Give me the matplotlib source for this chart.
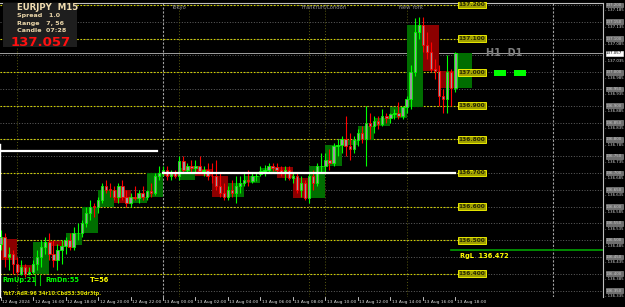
"""
EURJPY M15 chart (MT4 style) with H1 boxes, round levels and info panel.
"""
import matplotlib
matplotlib.use('Agg')
import matplotlib.pyplot as plt
from matplotlib.patches import Rectangle
import matplotlib.transforms as mtransforms

plt.rcParams['font.family'] = ['DejaVu Sans']

# ---------- data (M15 bars, 12 Aug 14:00 .. 13 Aug 18:00) ----------
m15_open = [136.49, 136.51, 136.45, 136.46, 136.43, 136.40, 136.42, 136.40, 136.405, 136.43, 136.45, 136.48,
            136.495, 136.46, 136.44, 136.47, 136.483, 136.50, 136.48, 136.52, 136.521, 136.55, 136.58, 136.60,
            136.599, 136.62, 136.66, 136.65, 136.649, 136.63, 136.66, 136.63, 136.611, 136.63, 136.625, 136.64,
            136.629, 136.645, 136.64, 136.69, 136.70, 136.71, 136.69, 136.70, 136.690, 136.735, 136.71, 136.72,
            136.715, 136.72, 136.705, 136.71, 136.691, 136.69, 136.66, 136.64, 136.629, 136.65, 136.64, 136.66,
            136.670, 136.68, 136.675, 136.69, 136.697, 136.705, 136.71, 136.72, 136.718, 136.71, 136.70, 136.71,
            136.685, 136.69, 136.65, 136.67, 136.626, 136.69, 136.67, 136.72, 136.721, 136.74, 136.73, 136.78,
            136.783, 136.80, 136.78, 136.77, 136.798, 136.82, 136.80, 136.85, 136.84, 136.855, 136.845, 136.87,
            136.864, 136.875, 136.88, 136.87, 136.896, 136.92, 137.00, 137.12, 137.140, 137.08, 137.06, 137.01,
            137.004, 136.93, 136.92, 137.00, 136.953]
m15_high = [136.53, 136.52, 136.48, 136.47, 136.45, 136.44, 136.43, 136.42, 136.44, 136.47, 136.50, 136.51,
            136.52, 136.50, 136.49, 136.50, 136.51, 136.52, 136.54, 136.55, 136.56, 136.60, 136.62, 136.61,
            136.63, 136.67, 136.68, 136.67, 136.66, 136.67, 136.68, 136.65, 136.64, 136.66, 136.65, 136.66,
            136.65, 136.67, 136.70, 136.72, 136.72, 136.72, 136.71, 136.71, 136.75, 136.75, 136.73, 136.74,
            136.74, 136.75, 136.72, 136.73, 136.73, 136.74, 136.70, 136.67, 136.66, 136.68, 136.69, 136.69,
            136.70, 136.71, 136.70, 136.70, 136.72, 136.725, 136.73, 136.73, 136.73, 136.72, 136.72, 136.72,
            136.70, 136.70, 136.69, 136.68, 136.70, 136.71, 136.73, 136.76, 136.76, 136.77, 136.79, 136.80,
            136.81, 136.87, 136.82, 136.81, 136.83, 136.84, 136.90, 136.88, 136.87, 136.87, 136.89, 136.88,
            136.88, 136.89, 136.91, 136.90, 136.93, 137.02, 137.16, 137.165, 137.165, 137.12, 137.09, 137.04,
            137.02, 136.95, 137.05, 137.01, 137.06]
m15_low = [136.47, 136.42, 136.41, 136.40, 136.395, 136.395, 136.39, 136.395, 136.40, 136.41, 136.42, 136.46,
           136.44, 136.42, 136.41, 136.43, 136.46, 136.47, 136.47, 136.50, 136.51, 136.54, 136.56, 136.57,
           136.58, 136.61, 136.64, 136.63, 136.62, 136.61, 136.62, 136.60, 136.60, 136.62, 136.61, 136.62,
           136.62, 136.63, 136.635, 136.68, 136.69, 136.68, 136.68, 136.685, 136.68, 136.70, 136.70, 136.70,
           136.70, 136.70, 136.69, 136.68, 136.67, 136.65, 136.63, 136.62, 136.62, 136.63, 136.61, 136.64,
           136.66, 136.66, 136.67, 136.675, 136.69, 136.69, 136.70, 136.705, 136.70, 136.69, 136.68, 136.68,
           136.67, 136.64, 136.63, 136.62, 136.61, 136.65, 136.66, 136.70, 136.70, 136.71, 136.72, 136.75,
           136.76, 136.75, 136.74, 136.76, 136.78, 136.79, 136.72, 136.80, 136.82, 136.83, 136.84, 136.85,
           136.85, 136.86, 136.86, 136.86, 136.88, 136.89, 136.99, 137.10, 137.06, 137.04, 137.00, 136.98,
           136.90, 136.88, 136.88, 136.90, 136.94]
m15_close = [136.51, 136.45, 136.46, 136.43, 136.405, 136.42, 136.40, 136.405, 136.43, 136.45, 136.48, 136.495,
             136.46, 136.44, 136.47, 136.483, 136.50, 136.48, 136.52, 136.521, 136.55, 136.58, 136.60, 136.599,
             136.62, 136.66, 136.65, 136.649, 136.63, 136.66, 136.63, 136.611, 136.63, 136.625, 136.64, 136.629,
             136.645, 136.64, 136.69, 136.700, 136.71, 136.69, 136.70, 136.690, 136.735, 136.71, 136.72, 136.715,
             136.72, 136.705, 136.71, 136.691, 136.69, 136.66, 136.64, 136.629, 136.65, 136.64, 136.66, 136.670,
             136.68, 136.675, 136.69, 136.691, 136.705, 136.71, 136.72, 136.715, 136.71, 136.70, 136.71, 136.685,
             136.69, 136.65, 136.67, 136.626, 136.69, 136.67, 136.72, 136.721, 136.74, 136.73, 136.78, 136.783,
             136.80, 136.78, 136.77, 136.798, 136.82, 136.80, 136.85, 136.840, 136.855, 136.845, 136.87, 136.864,
             136.875, 136.88, 136.87, 136.896, 136.92, 137.00, 137.12, 137.140, 137.08, 137.06, 137.01, 137.004,
             136.93, 136.92, 137.00, 136.953, 137.057]

# H1 boxes (open / close of each hour)
h1_open = [136.505, 136.425, 136.400, 136.498, 136.486, 136.521, 136.599, 136.649, 136.611, 136.629,
           136.700, 136.679, 136.712, 136.691, 136.629, 136.670, 136.697, 136.718, 136.685, 136.626,
           136.721, 136.783, 136.798, 136.840, 136.864, 136.896, 137.140, 137.004, 136.953]
h1_close = [136.440, 136.405, 136.495, 136.483, 136.521, 136.599, 136.649, 136.611, 136.629, 136.700,
            136.690, 136.715, 136.691, 136.629, 136.670, 136.691, 136.715, 136.685, 136.626, 136.721,
            136.783, 136.798, 136.840, 136.864, 136.896, 137.140, 137.004, 136.953, 137.057]

time_labels = ['12 Aug 2024', '12 Aug 16:00', '12 Aug 18:00', '12 Aug 20:00', '12 Aug 22:00',
               '13 Aug 00:00', '13 Aug 02:00', '13 Aug 04:00', '13 Aug 06:00', '13 Aug 08:00',
               '13 Aug 10:00', '13 Aug 12:00', '13 Aug 14:00', '13 Aug 16:00', '13 Aug 18:00']
round_levels = [136.4, 136.5, 136.6, 136.7, 136.8, 136.9, 137.0, 137.1, 137.2]
grid_levels = [136.35, 136.4, 136.45, 136.5, 136.55, 136.6, 136.65, 136.7, 136.75, 136.8,
               136.85, 136.9, 136.95, 137.0, 137.05, 137.1, 137.15, 137.2]
sessions = [('Tokyo', 44), ('Frankfurt/London', 76), ('New York', 100)]
session_lines = [4, 44, 76, 80, 100]
current_price = 137.057
yday_level = 136.766
today_open = 136.700
rgl_level = 136.472

# ---------- layout ----------
W, H = 625, 307
fig = plt.figure(figsize=(W / 100, H / 100), dpi=100, facecolor='black')

def px(x, y):
    return x / W, 1 - y / H

ax_l, ax_r, ax_t, ax_b = 0, 603, 3, 297
ax = fig.add_axes([ax_l / W, 1 - ax_b / H, (ax_r - ax_l) / W, (ax_b - ax_t) / H])
ax.set_facecolor('black')
bar_px = 4.06
x0_px = 0.6
ax.set_xlim((ax_l - x0_px) / bar_px, (ax_r - x0_px) / bar_px)
ax.set_ylim(137.2 - (ax_b - 5) / 336, 137.2 + (5 - ax_t) / 336)
ax.set_xticks([])
ax.set_yticks([])
for s in ['left', 'bottom']:
    ax.spines[s].set_visible(False)
for s in ['top', 'right']:
    ax.spines[s].set_color('#c0c0c0')
    ax.spines[s].set_linewidth(0.8)
ax.plot([0, 0], [0, 0.52], transform=ax.transAxes, color='white', lw=1.0, clip_on=False)

# grid
for lv in grid_levels:
    ax.axhline(lv, color='#707070', lw=0.6, ls=(0, (1.2, 2)), zorder=0)
for xi in [40, 136]:
    ax.axvline(xi, color='#a0a0a0', lw=0.8, ls=(0, (2, 1.5)), zorder=0)
for xi in session_lines:
    ax.axvline(xi, color='#5a5a10', lw=0.7, ls=(0, (1, 2)), zorder=0)

# round levels with labels
lab_x = (472 - x0_px) / bar_px
end_x = (460 - x0_px) / bar_px
for lv in round_levels:
    ax.plot([ax.get_xlim()[0], end_x], [lv, lv], color='#d0d000', lw=0.8, ls=(0, (1.5, 1.5)), zorder=1)
    ax.text(lab_x, lv, f'{lv:.3f}', color='#2a2a00', fontsize=4.2, fontweight='bold', ha='center',
            va='center', zorder=6,
            bbox=dict(boxstyle='square,pad=0.15', fc='#a0a000', ec='#ffff00', lw=0.6))

# H1 boxes
for k, (o, c) in enumerate(zip(h1_open, h1_close)):
    col = '#006e00' if c >= o else '#8c0000'
    ax.add_patch(Rectangle((4 * k, min(o, c)), 4, max(abs(c - o), 0.002), fc=col, ec='none', zorder=2))

# M15 candles
for i, (o, hi, lo, c) in enumerate(zip(m15_open, m15_high, m15_low, m15_close)):
    col = '#00ff00' if c >= o else '#ff0000'
    ax.vlines(i, lo, hi, color=col, lw=0.8, zorder=3)
    ax.add_patch(Rectangle((i - 0.3, min(o, c)), 0.6, max(abs(c - o), 0.002),
                           fc='#9a9a9a', ec=col, lw=0.6, zorder=4))

# horizontal lines
ax.plot([ax.get_xlim()[0], 38.5], [yday_level, yday_level], color='white', lw=1.6, zorder=5)
ax.plot([40, 112], [today_open, today_open], color='white', lw=1.6, zorder=5)
ax.axhline(current_price, color='#a0a0a0', lw=0.7, zorder=1)
ax.plot([111, ax.get_xlim()[1]], [rgl_level, rgl_level], color='#00a000', lw=1.2, zorder=5)
ax.text(113.2, rgl_level - 0.018, 'RgL  136.472', color='#ffff00', fontsize=4.8, fontweight='bold',
        va='center', zorder=6)

# H1 D1 markers
ax.text(119.5, 137.057, 'H1  D1', color='#808080', fontsize=7, fontweight='bold', va='center')
for xs in [121.5, 126.4]:
    ax.add_patch(Rectangle((xs, 136.99), 3, 0.017, fc='#00ff00', ec='none', zorder=6))

# sessions
for name, xi in sessions:
    ax.text(xi - 1.8, 137.193, name, color='#909090', fontsize=3.8, ha='left', va='center')

# right price scale
tr = mtransforms.blended_transform_factory(ax.transAxes, ax.transData)
for lv in grid_levels:
    if abs(lv - 137.05) > 0.001:
        ax.text(1.005, lv, f'{lv:.3f}', transform=tr, color='#c8c8c8', fontsize=2.9, va='center',
                ha='left', clip_on=False,
                bbox=dict(boxstyle='square,pad=0.12', fc='#6e6e6e', ec='#9a9a9a', lw=0.4))
    ax.text(1.003, lv - 0.016, f'- {lv - 0.015:.3f}', transform=tr, color='#e0e0e0', fontsize=2.8,
            va='center', ha='left', clip_on=False)
ax.text(1.005, current_price, f'{current_price:.3f}', transform=tr, color='black', fontsize=2.9,
        va='center', ha='left', clip_on=False, zorder=10,
        bbox=dict(boxstyle='square,pad=0.12', fc='white', ec='white', lw=0.4))

# time axis
for j, lab in enumerate(time_labels):
    xi = 8 * j
    xpx = x0_px + xi * bar_px
    fig.text(*px(xpx + 1.5, 302.5), lab, color='#d8d8d8', fontsize=3.2, ha='left', va='center')
    fig.lines.append(plt.Line2D([xpx / W, xpx / W], [1 - 297 / H, 1 - 300 / H], color='#d8d8d8',
                                lw=0.6, transform=fig.transFigure))

# info panel
fig.patches.append(Rectangle(px(3, 47), 74 / W, 44 / H, fc='#1e1e1e', ec='none',
                             transform=fig.transFigure, zorder=5))
fig.text(*px(17, 8), 'EURJPY  M15', color='#f0dcb0', fontsize=6.2, fontweight='bold', va='center', zorder=6)
fig.text(*px(17, 16), 'Spread   1.0', color='#e8d4a8', fontsize=4.6, fontweight='bold', va='center', zorder=6)
fig.text(*px(17, 24), 'Range   7, 56', color='#e8d4a8', fontsize=4.6, fontweight='bold', va='center', zorder=6)
fig.text(*px(17, 31), 'Candle  07:28', color='#e8d4a8', fontsize=4.6, fontweight='bold', va='center', zorder=6)
fig.text(*px(11, 42), '137.057', color='#ff1010', fontsize=9.5, fontweight='bold', va='center', zorder=6)

# bottom-left texts
fig.text(*px(2, 280), 'RmUp:21', color='#00ff00', fontsize=4.8, fontweight='bold', va='center')
fig.text(*px(45, 280), 'RmDn:55', color='#00ff00', fontsize=4.8, fontweight='bold', va='center')
fig.text(*px(90, 280), 'T=56', color='#ffff00', fontsize=4.8, fontweight='bold', va='center')
for xb in [35, 40]:
    fig.lines.append(plt.Line2D([xb / W, xb / W], [1 - 275 / H, 1 - 285 / H], color='#00c000',
                                lw=0.8, transform=fig.transFigure))
fig.text(*px(2, 293), 'Yst7:AdR:96 34r10:Cbd53:30dr3tp.', color='#e0e000', fontsize=3.6,
         fontweight='bold', va='center')

fig.savefig('out.png', dpi=100, facecolor='black')
